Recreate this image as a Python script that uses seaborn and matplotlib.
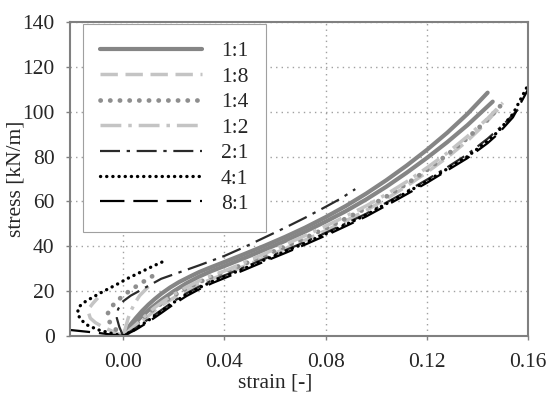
import numpy as np
import pandas as pd
import matplotlib
matplotlib.use("Agg")
import matplotlib.pyplot as plt
import seaborn as sns

# ratio labels, in legend order
ratios = ["1:1", "1:8", "1:4", "1:2", "2:1", "4:1", "8:1"]

# main branches (large strain direction)
strain_11 = [0, 0.0025, 0.005, 0.0075, 0.01, 0.0125, 0.015, 0.0185, 0.022, 0.026, 0.03, 0.035,
             0.04, 0.048, 0.056, 0.064, 0.072, 0.08, 0.088, 0.096, 0.104, 0.112, 0.12, 0.128,
             0.136, 0.144]
stress_11 = [0, 4.5, 8, 11.2, 14, 16.5, 18.8, 21.6, 24, 26.3, 28.5, 30.8,
             33, 36.6, 40.3, 44.2, 48.4, 53, 58, 63.5, 69.5, 76, 83, 90.6,
             99, 108.5]
strain_11b = [0, 0.0025, 0.005, 0.0075, 0.01, 0.015, 0.02, 0.025, 0.03, 0.035, 0.04, 0.048,
              0.056, 0.064, 0.072, 0.08, 0.088, 0.096, 0.104, 0.112, 0.12, 0.128, 0.136, 0.146]
stress_11b = [0, 3.2, 6.2, 9, 11.5, 16, 20, 23.5, 26.5, 29, 31.2, 34.8,
              38.5, 42.4, 46.6, 51, 55.7, 60.9, 66.6, 72.8, 79.4, 86.4, 94, 104.5]

strain_18 = [0, 0.003, 0.006, 0.009, 0.012, 0.016, 0.02, 0.025, 0.03, 0.035, 0.04, 0.048,
             0.056, 0.064, 0.072, 0.08, 0.088, 0.096, 0.104, 0.112, 0.12, 0.128, 0.136,
             0.142, 0.148]
stress_18 = [0, 2.5, 5, 8, 11, 14.3, 17, 20.2, 23, 25.4, 27.5, 31.2,
             35, 38.9, 42.8, 47, 51.4, 56, 61.2, 66.8, 73, 79.6, 87,
             93.5, 101]
strain_14 = [0, 0.003, 0.006, 0.009, 0.012, 0.016, 0.02, 0.025, 0.03, 0.035, 0.04, 0.048,
             0.056, 0.064, 0.072, 0.08, 0.088, 0.096, 0.104, 0.112, 0.12, 0.128, 0.136,
             0.144, 0.151]
stress_14 = [0, 3, 6, 9, 12, 15.2, 18, 21.3, 24, 26.4, 28.5, 32.2,
             36, 39.9, 43.8, 48, 52.4, 57, 62.2, 67.8, 74, 80.8, 88.2,
             96.5, 105]
strain_12 = [0, 0.003, 0.006, 0.009, 0.012, 0.016, 0.02, 0.025, 0.03, 0.035, 0.04, 0.048,
             0.056, 0.064, 0.072, 0.08, 0.088, 0.096, 0.104, 0.112, 0.12, 0.128, 0.136,
             0.144, 0.150]
stress_12 = [0, 3, 6, 9.2, 12.3, 15.6, 18.5, 21.8, 24.6, 27, 29, 32.8,
             36.8, 40.8, 44.8, 49, 53.4, 58, 63.2, 68.8, 75, 81.6, 89,
             97, 104]

strain_21 = [0, 0.005, 0.01, 0.015, 0.02, 0.025, 0.03, 0.035, 0.04, 0.048, 0.056, 0.064,
             0.072, 0.08, 0.088, 0.096, 0.104, 0.112, 0.12, 0.128, 0.136, 0.144, 0.15, 0.156]
stress_21 = [0, 3.6, 7.5, 11.5, 15.5, 19, 22, 24.7, 27, 30.7, 34.5, 38.2,
             42, 46, 50.2, 54.5, 59.5, 64.5, 69.7, 75.2, 81, 88, 94, 101]
strain_41 = [0, 0.005, 0.01, 0.015, 0.02, 0.025, 0.03, 0.035, 0.04, 0.048, 0.056, 0.064,
             0.072, 0.08, 0.088, 0.096, 0.104, 0.112, 0.12, 0.128, 0.136, 0.144, 0.148,
             0.154, 0.16]
stress_41 = [0, 3.2, 7, 11, 15, 18.5, 21.5, 24.2, 26.5, 30.2, 34, 37.7,
             41.5, 45.5, 49.7, 54, 59, 64, 69, 74.5, 80, 87, 91,
             99, 112]
strain_81 = [0, 0.005, 0.01, 0.015, 0.02, 0.025, 0.03, 0.035, 0.04, 0.048, 0.056, 0.064,
             0.072, 0.08, 0.088, 0.096, 0.104, 0.112, 0.12, 0.128, 0.136, 0.144, 0.148,
             0.154, 0.16]
stress_81 = [0, 2.8, 6.3, 10.2, 14.2, 17.8, 20.8, 23.5, 25.8, 29.5, 33.3, 37,
             40.8, 44.8, 49, 53.3, 58.2, 63.2, 68.3, 73.8, 79.3, 86, 90,
             97.5, 110]

# second branches (other direction)
strain_14_s = [0, -0.003, -0.0055, -0.0063, -0.005, -0.003, 0.0, 0.0036, 0.008, 0.012]
stress_14_s = [0, 3, 6.5, 9.5, 12.5, 15, 18, 21, 24.2, 27]
strain_18_s = [0, -0.004, -0.008, -0.011, -0.013, -0.014, -0.012, -0.010]
stress_18_s = [0, 2, 4, 6, 8, 11.6, 14.5, 17]
strain_12_s = [0, 0.001, 0.002, 0.003, 0.0045, 0.0065, 0.01]
stress_12_s = [0, 4, 8, 11, 14.5, 18, 22]
strain_21_s = [0, -0.0015, -0.0025, -0.002, 0.0, 0.003, 0.007, 0.011, 0.015, 0.02, 0.025,
               0.03, 0.035, 0.04, 0.048, 0.056, 0.064, 0.072, 0.08, 0.086, 0.0917]
stress_21_s = [0, 4, 8, 12, 15.5, 18, 20.5, 23, 25.5, 27.5, 29.5,
               31.5, 33.6, 35.7, 39.7, 44, 48.3, 52.8, 57.6, 61.3, 65.5]
strain_41_s = [0, -0.005, -0.01, -0.014, -0.017, -0.018, -0.0175, -0.015, -0.012, -0.008,
               -0.003, 0.002, 0.0075, 0.0115, 0.0154]
stress_41_s = [0, 1.3, 2.8, 4.8, 7.5, 10.5, 13, 15.3, 17.3, 19.8,
               22.7, 25.8, 28.8, 31, 33]
strain_81_s = [0, -0.01, -0.021]
stress_81_s = [0, 1.4, 2.7]

branches = {
    "1:1": [(strain_11, stress_11), (strain_11b, stress_11b)],
    "1:8": [(strain_18, stress_18), (strain_18_s, stress_18_s)],
    "1:4": [(strain_14, stress_14), (strain_14_s, stress_14_s)],
    "1:2": [(strain_12, stress_12), (strain_12_s, stress_12_s)],
    "2:1": [(strain_21, stress_21), (strain_21_s, stress_21_s)],
    "4:1": [(strain_41, stress_41), (strain_41_s, stress_41_s)],
    "8:1": [(strain_81, stress_81), (strain_81_s, stress_81_s)],
}

styles = {
    "1:1": dict(color="#858585", lw=3.0, ls="-"),
    "1:8": dict(color="#c4c4c4", lw=2.5, ls=(0, (5, 2.2))),
    "1:4": dict(color="#8e8e8e", lw=3.4, ls=(0, (0.05, 2.0)), dash_capstyle="round"),
    "1:2": dict(color="#c4c4c4", lw=2.5, ls=(0, (6, 2, 1, 2))),
    "2:1": dict(color="#2a2a2a", lw=1.6, ls=(0, (9, 3, 1.5, 3))),
    "4:1": dict(color="#000000", lw=2.4, ls=(0, (0.05, 1.8)), dash_capstyle="round"),
    "8:1": dict(color="#000000", lw=1.6, ls=(0, (11, 4))),
}

sns.set_style("white")
plt.rcParams["font.family"] = ["Liberation Serif", "DejaVu Serif"]

fig = plt.figure(figsize=(5.49, 3.93), dpi=100)
ax = fig.add_axes([0.1275, 0.145, 0.8345, 0.799])

for r in ratios:
    st = styles[r]
    for k, (xs, ys) in enumerate(branches[r]):
        df = pd.DataFrame({"strain": xs, "stress": ys})
        sns.lineplot(data=df, x="strain", y="stress", sort=False, estimator=None,
                     ax=ax, color=st["color"], linewidth=st["lw"], linestyle=st["ls"],
                     label=r if k == 0 else None)
        if "dash_capstyle" in st:
            ax.lines[-1].set_dash_capstyle(st["dash_capstyle"])

ax.set_xlim(-0.021, 0.16)
ax.set_ylim(0, 140)
ax.set_xticks([0.0, 0.04, 0.08, 0.12, 0.16])
ax.set_xticklabels(["0.00", "0.04", "0.08", "0.12", "0.16"])
ax.set_yticks(range(0, 141, 20))
ax.tick_params(labelsize=15.5, length=3, width=1, color="#808080", direction="out",
               left=True, bottom=True)
ax.tick_params(axis="x", pad=9)
ax.tick_params(axis="y", pad=8)
ax.grid(True, ls=(0, (1, 3)), color="#a0a0a0", lw=1)
for s in ax.spines.values():
    s.set_color("#808080")
    s.set_linewidth(1.5)

ax.set_xlabel("strain [-]", fontsize=15.5)
ax.set_ylabel("stress [kN/m]", fontsize=15.5)
ax.xaxis.set_label_coords(0.448, -0.118)
ax.yaxis.set_label_coords(-0.098, 0.5)

leg = ax.legend(loc="upper left", bbox_to_anchor=(0.028, 0.995), fontsize=15.5,
                handlelength=4.7, handletextpad=0.9, labelspacing=0.25,
                borderpad=0.82, fancybox=False, framealpha=1, borderaxespad=0)
leg.get_frame().set_edgecolor("#a0a0a0")
leg.get_frame().set_linewidth(0.8)
for h in leg.get_lines():
    r = h.get_label()
    if r in styles and "dash_capstyle" in styles[r]:
        h.set_dash_capstyle("round")

fig.savefig("out.png", dpi=100)
